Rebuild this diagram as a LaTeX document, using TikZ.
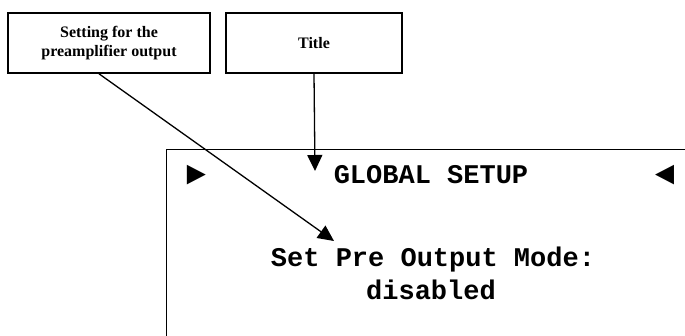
\documentclass[tikz,border=0pt]{standalone}
\usepackage{fontspec}
\setmainfont{Liberation Serif}
\newfontfamily\lcdfont{Liberation Mono}
\usetikzlibrary{arrows.meta,positioning}
\tikzset{
    label-box/.style = {draw, line width=1.6pt, rectangle, align=center, font=\bfseries\fontsize{16}{19}\selectfont, inner sep=0pt},
    screen-box/.style = {draw, line width=1.3pt, rectangle, anchor=north west, inner sep=0pt},
    lcd-text/.style = {font=\lcdfont\bfseries\fontsize{27}{33}\selectfont, inner sep=0pt, anchor=base},
    lcd-mark/.style = {lcd-text, font=\lcdfont\bfseries\fontsize{33}{33}\selectfont},
    pointer/.style = {line width=1.3pt, -{Triangle[width=15pt,length=16pt]}},
}

\begin{document}
\begin{tikzpicture}[x=1pt, y=-1pt]
\useasboundingbox (0,0) rectangle (685,336);
\node[label-box, minimum width=202pt, minimum height=60pt] (setting) at (109,43) {Setting for the\\preamplifier output};
\node[label-box, minimum width=176pt, minimum height=60pt] (title) at (314,43) {Title};
\node[screen-box, minimum width=530pt, minimum height=260pt] (screen) at (166,149) {};
% display lines
\node[lcd-text] (heading) at (431,184) {GLOBAL SETUP};
\node[lcd-mark] (left-mark) at (196,185) {►};
\node[lcd-mark] (right-mark) at (665,185) {◄};
\node[lcd-text] (mode-line) at (433,267) {Set Pre Output Mode:};
\node[lcd-text] (mode-value) at (431,300) {disabled};
% pointers
\coordinate (title-tip) at (315,171);
\coordinate (mode-tip) at (334,241);
\draw[pointer] (title.south) -- (title-tip);
\draw[pointer] ([xshift=-10pt]setting.south) -- (mode-tip);
\end{tikzpicture}
\end{document}
